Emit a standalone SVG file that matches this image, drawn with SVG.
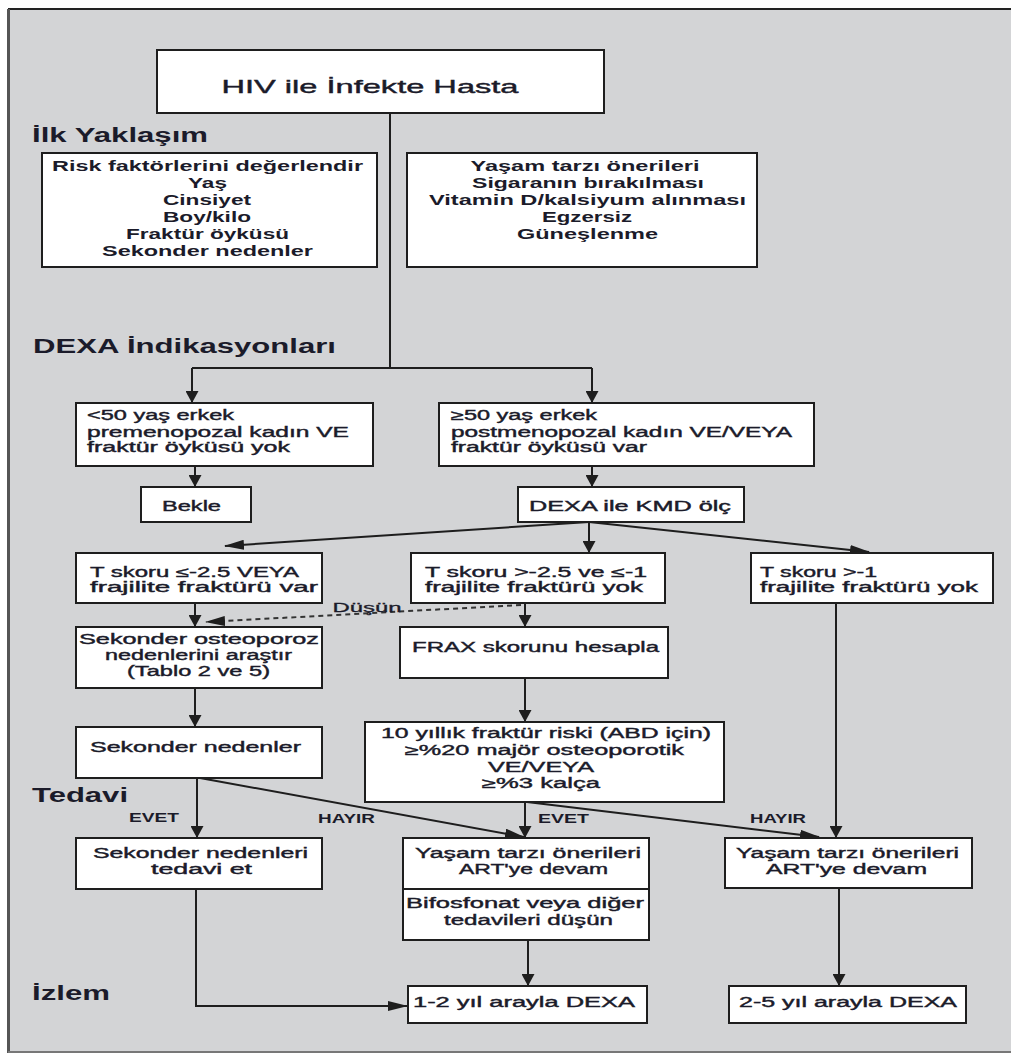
<svg xmlns="http://www.w3.org/2000/svg" width="1011" height="1055" viewBox="0 0 1011 1055">
<defs>
<style>
.box{fill:#fff;stroke:#1e1e1e;stroke-width:2}
.ln{fill:none;stroke:#1e1e1e;stroke-width:2}
.dash{fill:none;stroke:#333;stroke-width:2;stroke-dasharray:5 4}
text{font-family:"Liberation Sans",Arial,sans-serif;fill:#1b1b2a}
.h{font-size:20px;font-weight:bold}
.b{font-size:15px;font-weight:bold;text-anchor:middle}
.r{font-size:14px;stroke:#1b1b2a;stroke-width:0.4}
.c{font-size:14px;text-anchor:middle;stroke:#1b1b2a;stroke-width:0.4}
.lbl{font-size:12px;font-weight:bold}
</style>
<marker id="av" viewBox="0 0 12 13" refX="11" refY="6.5" markerWidth="12" markerHeight="13" markerUnits="userSpaceOnUse" orient="auto"><path d="M0,0 L12,6.5 L0,13 z" fill="#1e1e1e"/></marker>
<marker id="ah" viewBox="0 0 20 10" refX="19" refY="5" markerWidth="20" markerHeight="10" markerUnits="userSpaceOnUse" orient="auto"><path d="M0,0 L20,5 L0,10 z" fill="#1e1e1e"/></marker>
</defs>
<rect x="0" y="0" width="1011" height="1055" fill="#fff"/>
<rect x="8" y="9" width="1010" height="1043" fill="#d3d4d6"/>
<line x1="8" y1="9" x2="1011" y2="9" stroke="#222" stroke-width="2"/>
<line x1="8.5" y1="9" x2="8.5" y2="1053" stroke="#555" stroke-width="3"/>
<line x1="8" y1="1052" x2="1011" y2="1052" stroke="#777" stroke-width="2"/>

<g id="headings">
<text class="h" x="32" y="142" textLength="176" lengthAdjust="spacingAndGlyphs">İlk Yaklaşım</text>
<text class="h" x="33" y="353" textLength="303" lengthAdjust="spacingAndGlyphs">DEXA İndikasyonları</text>
<text class="h" x="32" y="802" textLength="96" lengthAdjust="spacingAndGlyphs">Tedavi</text>
<text class="h" x="32" y="1000" textLength="78" lengthAdjust="spacingAndGlyphs">İzlem</text>
</g>

<g id="connectors">
<path class="ln" d="M390,113 V368"/>
<path class="ln" d="M192,368 H592"/>
<path class="ln" d="M192,368 V402" marker-end="url(#av)"/>
<path class="ln" d="M592,368 V402" marker-end="url(#av)"/>
<path class="ln" d="M195,466 V486" marker-end="url(#av)"/>
<path class="ln" d="M592,466 V486" marker-end="url(#av)"/>
<path class="ln" d="M589,522 L225,546" marker-end="url(#ah)"/>
<path class="ln" d="M589,522 V552" marker-end="url(#av)"/>
<path class="ln" d="M589,522 L869,552" marker-end="url(#ah)"/>
<path class="ln" d="M195,603 V626" marker-end="url(#av)"/>
<path class="ln" d="M525,603 V626" marker-end="url(#av)"/>
<path class="dash" d="M521,605 L206,622" marker-end="url(#ah)"/>
<path class="ln" d="M195,688 V726" marker-end="url(#av)"/>
<path class="ln" d="M525,678 V721" marker-end="url(#av)"/>
<path class="ln" d="M836,603 V837" marker-end="url(#av)"/>
<path class="ln" d="M197,778 V837" marker-end="url(#av)"/>
<path class="ln" d="M200,778 L524,837" marker-end="url(#ah)"/>
<path class="ln" d="M525,802 V837" marker-end="url(#av)"/>
<path class="ln" d="M527,802 L819,837" marker-end="url(#ah)"/>
<path class="ln" d="M528,940 V985" marker-end="url(#av)"/>
<path class="ln" d="M196,889 V1006 H407" marker-end="url(#ah)"/>
<path class="ln" d="M839,888 V985" marker-end="url(#av)"/>
<text x="367" y="612" font-size="13" text-anchor="middle" stroke="#1b1b2a" stroke-width="0.3" textLength="69" lengthAdjust="spacingAndGlyphs">Düşün</text>
<text class="lbl" x="129" y="822" textLength="50" lengthAdjust="spacingAndGlyphs">EVET</text>
<text class="lbl" x="318" y="823" textLength="57" lengthAdjust="spacingAndGlyphs">HAYIR</text>
<text class="lbl" x="538" y="823" textLength="51" lengthAdjust="spacingAndGlyphs">EVET</text>
<text class="lbl" x="750" y="823" textLength="56" lengthAdjust="spacingAndGlyphs">HAYIR</text>
</g>

<g id="n-hiv">
<rect class="box" x="157" y="50" width="447" height="63"/>
<text x="370" y="93" font-size="19" text-anchor="middle" stroke="#1b1b2a" stroke-width="0.4" textLength="297" lengthAdjust="spacingAndGlyphs">HIV ile İnfekte Hasta</text>
</g>

<g id="n-risk">
<rect class="box" x="42" y="153" width="335" height="114"/>
<text class="b" x="207.5" y="171" textLength="311" lengthAdjust="spacingAndGlyphs">Risk faktörlerini değerlendir</text>
<text class="b" x="207.5" y="188" textLength="39" lengthAdjust="spacingAndGlyphs">Yaş</text>
<text class="b" x="207" y="205" textLength="88" lengthAdjust="spacingAndGlyphs">Cinsiyet</text>
<text class="b" x="207" y="222" textLength="88" lengthAdjust="spacingAndGlyphs">Boy/kilo</text>
<text class="b" x="207.5" y="239" textLength="163" lengthAdjust="spacingAndGlyphs">Fraktür öyküsü</text>
<text class="b" x="207.5" y="256" textLength="211" lengthAdjust="spacingAndGlyphs">Sekonder nedenler</text>
</g>

<g id="n-yasam">
<rect class="box" x="407" y="153" width="350" height="114"/>
<text class="b" x="585" y="171" textLength="229" lengthAdjust="spacingAndGlyphs">Yaşam tarzı önerileri</text>
<text class="b" x="588" y="188" textLength="232" lengthAdjust="spacingAndGlyphs">Sigaranın bırakılması</text>
<text class="b" x="587.5" y="205" textLength="317" lengthAdjust="spacingAndGlyphs">Vitamin D/kalsiyum alınması</text>
<text class="b" x="587" y="222" textLength="90" lengthAdjust="spacingAndGlyphs">Egzersiz</text>
<text class="b" x="587.5" y="239" textLength="141" lengthAdjust="spacingAndGlyphs">Güneşlenme</text>
</g>

<g id="n-ind1">
<rect class="box" x="76" y="403" width="297" height="63"/>
<text class="r" x="87" y="420" textLength="147" lengthAdjust="spacingAndGlyphs">&lt;50 yaş erkek</text>
<text class="r" x="87" y="436.5" textLength="262" lengthAdjust="spacingAndGlyphs">premenopozal kadın VE</text>
<text class="r" x="87" y="452" textLength="203" lengthAdjust="spacingAndGlyphs">fraktür öyküsü yok</text>
</g>

<g id="n-ind2">
<rect class="box" x="439" y="403" width="375" height="63"/>
<text class="r" x="451" y="420" textLength="146" lengthAdjust="spacingAndGlyphs">≥50 yaş erkek</text>
<text class="r" x="451" y="436.5" textLength="341" lengthAdjust="spacingAndGlyphs">postmenopozal kadın VE/VEYA</text>
<text class="r" x="451" y="452" textLength="196" lengthAdjust="spacingAndGlyphs">fraktür öyküsü var</text>
</g>

<g id="n-bekle">
<rect class="box" x="141" y="487" width="110" height="35"/>
<text class="c" x="191.5" y="511" textLength="59" lengthAdjust="spacingAndGlyphs">Bekle</text>
</g>

<g id="n-dexa">
<rect class="box" x="518" y="487" width="226" height="35"/>
<text class="c" x="630" y="511" textLength="202" lengthAdjust="spacingAndGlyphs">DEXA ile KMD ölç</text>
</g>

<g id="n-t1">
<rect class="box" x="76" y="553" width="246" height="50"/>
<text class="r" x="90" y="577" textLength="209" lengthAdjust="spacingAndGlyphs">T skoru ≤-2.5 VEYA</text>
<text class="r" x="90" y="592" textLength="228" lengthAdjust="spacingAndGlyphs">frajilite fraktürü var</text>
</g>

<g id="n-t2">
<rect class="box" x="411" y="553" width="254" height="50"/>
<text class="r" x="425" y="577" textLength="222" lengthAdjust="spacingAndGlyphs">T skoru &gt;-2.5 ve ≤-1</text>
<text class="r" x="425" y="592" textLength="218" lengthAdjust="spacingAndGlyphs">frajilite fraktürü yok</text>
</g>

<g id="n-t3">
<rect class="box" x="751" y="553" width="242" height="50"/>
<text class="r" x="760" y="577" textLength="117" lengthAdjust="spacingAndGlyphs">T skoru &gt;-1</text>
<text class="r" x="760" y="592" textLength="218" lengthAdjust="spacingAndGlyphs">frajilite fraktürü yok</text>
</g>

<g id="n-osteo">
<rect class="box" x="76" y="627" width="246" height="61"/>
<text class="c" x="199" y="644" textLength="240" lengthAdjust="spacingAndGlyphs">Sekonder osteoporoz</text>
<text class="c" x="198.5" y="660" textLength="187" lengthAdjust="spacingAndGlyphs">nedenlerini araştır</text>
<text class="c" x="198.5" y="676" textLength="143" lengthAdjust="spacingAndGlyphs">(Tablo 2 ve 5)</text>
</g>

<g id="n-frax">
<rect class="box" x="400" y="627" width="268" height="51"/>
<text class="c" x="535.5" y="652" textLength="247" lengthAdjust="spacingAndGlyphs">FRAX skorunu hesapla</text>
</g>

<g id="n-sek">
<rect class="box" x="76" y="727" width="246" height="51"/>
<text class="c" x="195.5" y="752" textLength="211" lengthAdjust="spacingAndGlyphs">Sekonder nedenler</text>
</g>

<g id="n-risk10">
<rect class="box" x="365" y="722" width="359" height="80"/>
<text class="c" x="546" y="738" textLength="330" lengthAdjust="spacingAndGlyphs">10 yıllık fraktür riski (ABD için)</text>
<text class="c" x="544.5" y="755" textLength="279" lengthAdjust="spacingAndGlyphs">≥%20 majör osteoporotik</text>
<text class="c" x="541" y="771.5" textLength="106" lengthAdjust="spacingAndGlyphs">VE/VEYA</text>
<text class="c" x="541" y="788" textLength="118" lengthAdjust="spacingAndGlyphs">≥%3 kalça</text>
</g>

<g id="n-tedavi">
<rect class="box" x="76" y="838" width="246" height="51"/>
<text class="c" x="200.5" y="858" textLength="215" lengthAdjust="spacingAndGlyphs">Sekonder nedenleri</text>
<text class="c" x="201.5" y="874" textLength="101" lengthAdjust="spacingAndGlyphs">tedavi et</text>
</g>

<g id="n-yasam2">
<rect class="box" x="403" y="838" width="246" height="51"/>
<text class="c" x="528" y="858" textLength="226" lengthAdjust="spacingAndGlyphs">Yaşam tarzı önerileri</text>
<text class="c" x="533.5" y="874" textLength="149" lengthAdjust="spacingAndGlyphs">ART'ye devam</text>
</g>

<g id="n-bifos">
<rect class="box" x="403" y="889" width="246" height="51"/>
<text class="c" x="525" y="908" textLength="238" lengthAdjust="spacingAndGlyphs">Bifosfonat veya diğer</text>
<text class="c" x="528.5" y="925" textLength="169" lengthAdjust="spacingAndGlyphs">tedavileri düşün</text>
</g>

<g id="n-yasam3">
<rect class="box" x="725" y="838" width="247" height="50"/>
<text class="c" x="847.5" y="858" textLength="223" lengthAdjust="spacingAndGlyphs">Yaşam tarzı önerileri</text>
<text class="c" x="846.5" y="874" textLength="161" lengthAdjust="spacingAndGlyphs">ART'ye devam</text>
</g>

<g id="n-dexa12">
<rect class="box" x="408" y="986" width="239" height="37"/>
<text class="c" x="524" y="1007" textLength="222" lengthAdjust="spacingAndGlyphs">1-2 yıl arayla DEXA</text>
</g>

<g id="n-dexa25">
<rect class="box" x="729" y="986" width="237" height="37"/>
<text class="c" x="848" y="1007" textLength="218" lengthAdjust="spacingAndGlyphs">2-5 yıl arayla DEXA</text>
</g>
</svg>
